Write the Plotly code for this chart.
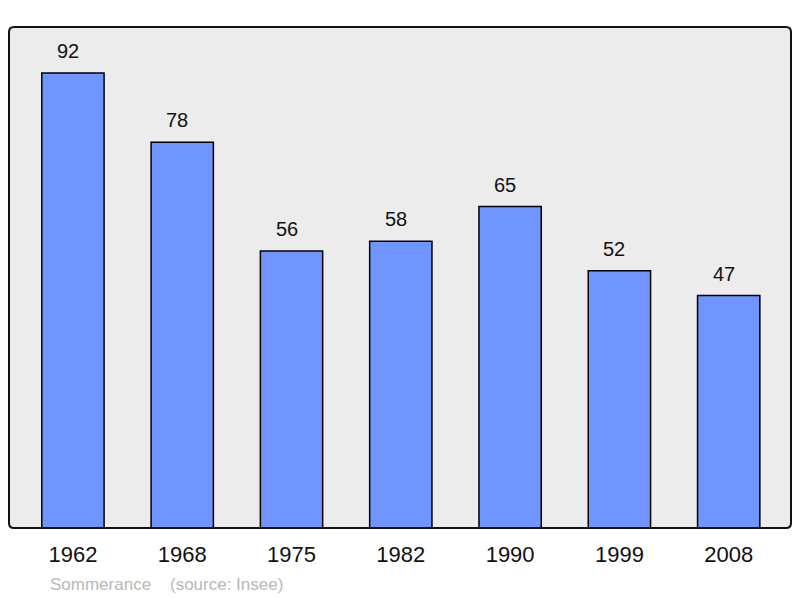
import plotly.graph_objects as go

years = ["1962", "1968", "1975", "1982", "1990", "1999", "2008"]
population = [92, 78, 56, 58, 65, 52, 47]
source_text = "Sommerance    (source: Insee)"

W, H = 800, 598
ml, mr, mt, mb = 9, 9, 27, 70

fig = go.Figure()
fig.add_trace(go.Bar(
    x=list(range(len(years))), y=population,
    width=0.57,
    marker=dict(color="#7095FF", line=dict(color="#000000", width=1.5)),
    hoverinfo="skip",
))

for i, v in enumerate(population):
    fig.add_annotation(x=i, y=v, text=str(v), showarrow=False,
                       yanchor="middle", yshift=22, xshift=-5,
                       font=dict(size=20, color="#111111", family="Liberation Sans, Arial, sans-serif"))

fig.add_annotation(xref="paper", yref="paper", x=(48 - ml) / (W - ml - mr), y=-(584 - (H - mb)) / (H - mt - mb),
                   xanchor="left", yanchor="middle", text=source_text, showarrow=False,
                   font=dict(size=17, color="#b8b8b8", family="Liberation Sans, Arial, sans-serif"))

# rounded frame
pw, ph = W - ml - mr, H - mt - mb
r = 5
rx, ry = r / pw, r / ph
path = (f"M {rx},0 L {1-rx},0 Q 1,0 1,{ry} L 1,{1-ry} Q 1,1 {1-rx},1 "
        f"L {rx},1 Q 0,1 0,{1-ry} L 0,{ry} Q 0,0 {rx},0 Z")
fig.add_shape(type="path", xref="paper", yref="paper", path=path,
              line=dict(color="#111111", width=2), fillcolor="rgba(0,0,0,0)", layer="above")

fig.update_layout(
    width=W, height=H,
    margin=dict(l=ml, r=mr, t=mt, b=mb),
    paper_bgcolor="#ffffff", plot_bgcolor="#ececec",
    showlegend=False,
    font=dict(family="Liberation Sans, Arial, sans-serif", color="#111111"),
    xaxis=dict(range=[-0.585, 6.57], tickmode="array", tickvals=list(range(len(years))),
               ticktext=years, tickfont=dict(size=22, color="#111111"),
               showgrid=False, zeroline=False, showline=False,
               ticks="outside", ticklen=7, tickcolor="rgba(0,0,0,0)", fixedrange=True),
    yaxis=dict(range=[0, 101.3], showgrid=False, zeroline=False, showline=False,
               showticklabels=False, ticks="", fixedrange=True),
)

fig.write_html("out.html", config={"displayModeBar": False},
               post_script="document.body.style.margin='0px';document.body.style.padding='0px';")
